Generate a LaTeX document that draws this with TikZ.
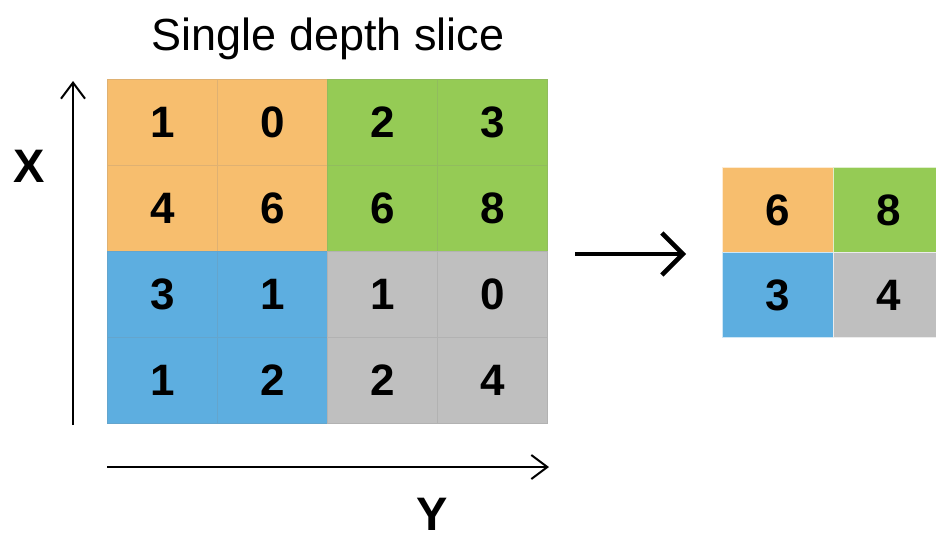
\documentclass[tikz,border=0pt]{standalone}
\usepackage{fontspec}
\setmainfont{Liberation Sans}
\usetikzlibrary{arrows.meta}
\definecolor{corange}{HTML}{F7BE6E}
\definecolor{cgreen}{HTML}{95CB55}
\definecolor{cblue}{HTML}{5DAEE0}
\definecolor{cgray}{HTML}{BFBFBF}
\tikzset{
  cell/.style={anchor=north west, minimum width=110pt, minimum height=86pt, inner sep=0pt,
    fill=#1, draw=#1!80!gray, line width=1pt, font=\fontsize{44}{44}\selectfont\bfseries},
  ocell/.style={anchor=north west, minimum width=111pt, minimum height=85pt, inner sep=0pt,
    fill=#1, draw=white!70!#1, line width=1pt, font=\fontsize{44}{44}\selectfont\bfseries},
  axis/.style={line width=2pt, -{Straight Barb[length=16pt,width=24pt,line width=2pt]}},
  bigarrow/.style={line width=4.5pt, -{Straight Barb[length=21pt,width=42pt,line width=4.5pt]}},
  axlabel/.style={font=\fontsize{47}{47}\selectfont\bfseries, inner sep=0pt},
}
\begin{document}
\begin{tikzpicture}[x=1pt,y=-1pt]
\useasboundingbox (0,0) rectangle (936,538);
\clip (0,0) rectangle (936,538);
\fill[white] (0,0) rectangle (936,538);
% title
\node[font=\fontsize{45}{45}\selectfont, inner sep=0pt, anchor=base] (title) at (328,50) {Single depth slice};
% input grid
\foreach \r/\c/\col/\v in {
  0/0/corange/1, 0/1/corange/0, 0/2/cgreen/2, 0/3/cgreen/3,
  1/0/corange/4, 1/1/corange/6, 1/2/cgreen/6, 1/3/cgreen/8,
  2/0/cblue/3, 2/1/cblue/1, 2/2/cgray/1, 2/3/cgray/0,
  3/0/cblue/1, 3/1/cblue/2, 3/2/cgray/2, 3/3/cgray/4}{
  \node[cell=\col] (in-\r-\c) at ({107+110*\c},{79+86*\r}) {\v};
}
% output grid
\foreach \r/\c/\col/\v in {
  0/0/corange/6, 0/1/cgreen/8,
  1/0/cblue/3, 1/1/cgray/4}{
  \node[ocell=\col] (out-\r-\c) at ({722+111*\c},{167+85*\r}) {\v};
}
% axes
\coordinate (xa0) at (73,425);
\coordinate (xa1) at (73,81);
\coordinate (ya0) at (107,467);
\coordinate (ya1) at (549,467);
\draw[axis] (xa0) -- (xa1);
\draw[axis] (ya0) -- (ya1);
\node[axlabel] (xlab) at (29,166) {X};
\node[axlabel] (ylab) at (432,514) {Y};
% big arrow
\coordinate (ba0) at (575,254);
\coordinate (ba1) at (686,254);
\draw[bigarrow] (ba0) -- (ba1);
\end{tikzpicture}
\end{document}
